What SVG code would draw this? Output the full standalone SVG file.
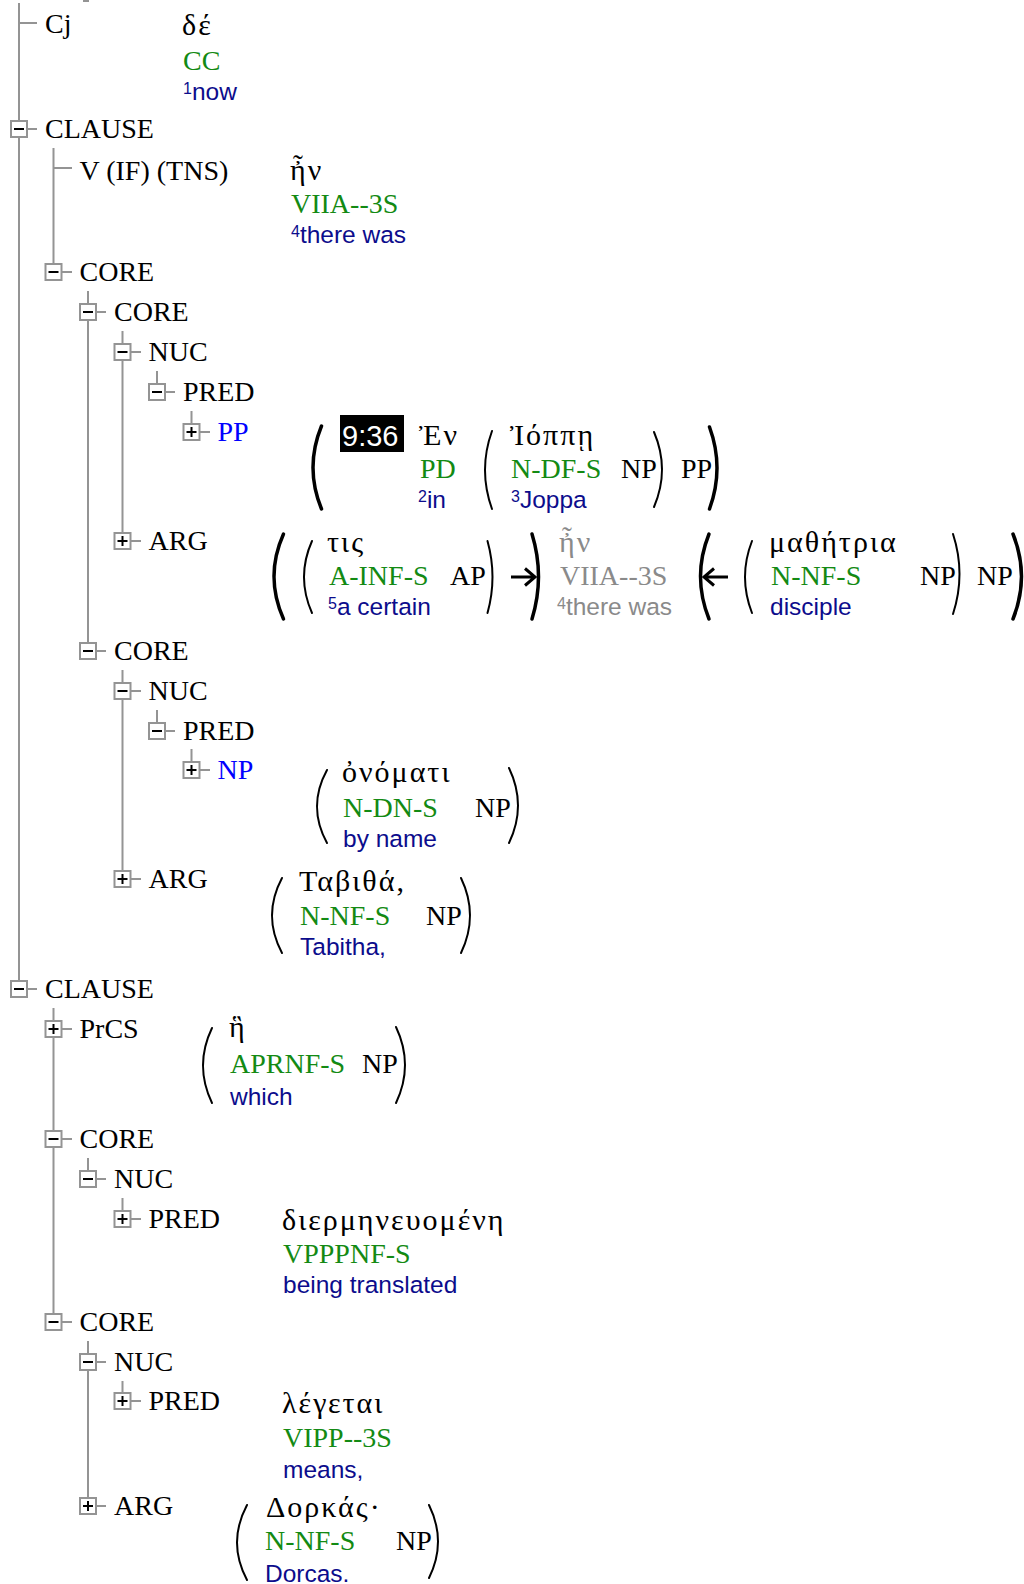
<svg xmlns="http://www.w3.org/2000/svg" width="1024" height="1584" viewBox="0 0 1024 1584">
<style>
  .ln { stroke: #949494; stroke-width: 2; fill: none; }
  .bx { fill: #fff; stroke: #949494; stroke-width: 2; }
  .sg { stroke: #000; stroke-width: 2; fill: none; }
  .lbl { font-family: "Liberation Serif", serif; font-size: 28px; fill: #000; }
  .blue { fill: #0000ff; }
  .tag { font-family: "Liberation Serif", serif; font-size: 28px; fill: #138a13; }
  .ph { font-family: "Liberation Serif", serif; font-size: 28px; fill: #000; }
  .gr { font-family: "Liberation Serif", serif; font-size: 30px; letter-spacing: 2px; fill: #000; }
  .gl { font-family: "Liberation Sans", sans-serif; font-size: 24.5px; fill: #0c0c8c; }
  .sup { font-size: 16px; }
  .dim { fill: #8a8a8a; }
  .pb { stroke: #000; stroke-width: 3.5; fill: none; stroke-linecap: round; }
  .pt { stroke: #000; stroke-width: 2; fill: none; stroke-linecap: round; }
  .arw { stroke: #000; stroke-width: 3; fill: none; }
  .vref { font-family: "Liberation Sans", sans-serif; font-size: 29px; fill: #fff; }
</style>

<defs>
  <g id="minus"><rect class="bx" x="-8" y="-8" width="16" height="16"/><path class="sg" d="M-5 0 H5"/></g>
  <g id="plus"><rect class="bx" x="-8" y="-8" width="16" height="16"/><path class="sg" d="M-5 0 H5 M0 -5 V5"/></g>
</defs>

<!-- tree connectors: vertical rails and horizontal ticks -->
<g id="connectors">
  <path class="ln" d="M83 1 H89"/>
  <path class="ln" d="M19 3 V980"/>
  <path class="ln" d="M53.5 148 V272 M53.5 1008 V1322"/>
  <path class="ln" d="M88 291 V651 M88 1158 V1179 M88 1341 V1506"/>
  <path class="ln" d="M122.5 331 V541 M122.5 670 V879 M122.5 1198 V1219 M122.5 1381 V1401"/>
  <path class="ln" d="M157 371 V392 M157 710 V731"/>
  <path class="ln" d="M191.5 411 V432 M191.5 749 V770"/>
  <path class="ln" d="M19 23 H37 M19 129 H37 M19 989 H37"/>
  <path class="ln" d="M53.5 168 H72 M53.5 272 H72 M53.5 1029 H72 M53.5 1139 H72 M53.5 1322 H72"/>
  <path class="ln" d="M88 312 H106 M88 651 H106 M88 1179 H106 M88 1362 H106 M88 1506 H106"/>
  <path class="ln" d="M122.5 352 H141 M122.5 541 H141 M122.5 691 H141 M122.5 879 H141 M122.5 1219 H141 M122.5 1401 H141"/>
  <path class="ln" d="M157 392 H175 M157 731 H175"/>
  <path class="ln" d="M191.5 432 H210 M191.5 770 H210"/>
</g>

<!-- Cj -->
<g id="n-cj">
  <text class="lbl" x="45" y="33">Cj</text>
  <text class="gr" x="182" y="35">δέ</text>
  <text class="tag" x="183" y="70">CC</text>
  <text class="gl" x="183" y="100"><tspan class="sup" dy="-6">1</tspan><tspan dy="6">now</tspan></text>
</g>

<!-- first clause -->
<g id="n-clause1">
  <use href="#minus" x="19" y="129"/>
  <text class="lbl" x="45" y="138">CLAUSE</text>
</g>
<g id="n-v">
  <text class="lbl" x="79.5" y="180">V (IF) (TNS)</text>
  <text class="gr" x="290" y="180">ἦν</text>
  <text class="tag" x="291" y="213">VIIA--3S</text>
  <text class="gl" x="291" y="243"><tspan class="sup" dy="-6">4</tspan><tspan dy="6">there was</tspan></text>
</g>
<g id="n-core1">
  <use href="#minus" x="53.5" y="272"/>
  <text class="lbl" x="79.5" y="281">CORE</text>
</g>
<g id="n-core1a">
  <use href="#minus" x="88" y="312"/>
  <text class="lbl" x="114" y="321">CORE</text>
</g>
<g id="n-nuc1a">
  <use href="#minus" x="122.5" y="352"/>
  <text class="lbl" x="148.5" y="361">NUC</text>
</g>
<g id="n-pred1a">
  <use href="#minus" x="157" y="392"/>
  <text class="lbl" x="183" y="401">PRED</text>
</g>
<g id="n-pp">
  <use href="#plus" x="191.5" y="432"/>
  <text class="lbl blue" x="217.5" y="441">PP</text>
  <path class="pb" d="M321.5 426 Q304.5 467.5 321.5 509"/>
  <rect x="340" y="415" width="64" height="37" fill="#000"/>
  <text class="vref" x="342" y="446">9:36</text>
  <text class="gr" x="419" y="445">Ἐν</text>
  <text class="tag" x="420" y="478">PD</text>
  <text class="gl" x="418" y="508"><tspan class="sup" dy="-6">2</tspan><tspan dy="6">in</tspan></text>
  <path class="pt" d="M492 431 Q478 470 492 509"/>
  <text class="gr" x="510" y="445">Ἰόππῃ</text>
  <text class="tag" x="511" y="478">N-DF-S</text>
  <text class="ph" x="621" y="478">NP</text>
  <text class="gl" x="511" y="508"><tspan class="sup" dy="-6">3</tspan><tspan dy="6">Joppa</tspan></text>
  <path class="pt" d="M654 432 Q670 469.5 654 507"/>
  <text class="ph" x="681" y="478">PP</text>
  <path class="pb" d="M709.5 427 Q724.5 468 709.5 509"/>
</g>
<g id="n-arg1a">
  <use href="#plus" x="122.5" y="541"/>
  <text class="lbl" x="148.5" y="550">ARG</text>
  <path class="pb" d="M283.5 534 Q264.5 576.5 283.5 619"/>
  <path class="pt" d="M312 541 Q296 577 312 613"/>
  <text class="gr" x="327" y="552">τις</text>
  <text class="tag" x="329" y="585">A-INF-S</text>
  <text class="ph" x="450" y="585">AP</text>
  <text class="gl" x="328" y="615"><tspan class="sup" dy="-6">5</tspan><tspan dy="6">a certain</tspan></text>
  <path class="pt" d="M487.5 541 Q497.5 577 487.5 613"/>
  <path class="arw" d="M511 577 H534 M525 568.5 L535 577 L525 585.5"/>
  <path class="pb" d="M532 534 Q545 576.5 532 619"/>
  <text class="gr dim" x="559" y="552">ἦν</text>
  <text class="tag dim" x="560" y="585">VIIA--3S</text>
  <text class="gl dim" x="557" y="615"><tspan class="sup" dy="-6">4</tspan><tspan dy="6">there was</tspan></text>
  <path class="pb" d="M709 534 Q692 576.5 709 619"/>
  <path class="arw" d="M728 577 H705 M714 568.5 L704 577 L714 585.5"/>
  <path class="pt" d="M752 541 Q738 577 752 613"/>
  <text class="gr" x="769" y="552">μαθήτρια</text>
  <text class="tag" x="771" y="585">N-NF-S</text>
  <text class="ph" x="920" y="585">NP</text>
  <text class="gl" x="770" y="615">disciple</text>
  <path class="pt" d="M953 534 Q966 574 953 614"/>
  <text class="ph" x="977" y="585">NP</text>
  <path class="pb" d="M1013 534 Q1030 576.5 1013 619"/>
</g>
<g id="n-core1b">
  <use href="#minus" x="88" y="651"/>
  <text class="lbl" x="114" y="660">CORE</text>
</g>
<g id="n-nuc1b">
  <use href="#minus" x="122.5" y="691"/>
  <text class="lbl" x="148.5" y="700">NUC</text>
</g>
<g id="n-pred1b">
  <use href="#minus" x="157" y="731"/>
  <text class="lbl" x="183" y="740">PRED</text>
</g>
<g id="n-np">
  <use href="#plus" x="191.5" y="770"/>
  <text class="lbl blue" x="217.5" y="779">NP</text>
  <path class="pt" d="M327 770 Q307 806.5 327 843"/>
  <text class="gr" x="342" y="782">ὀνόματι</text>
  <text class="tag" x="343" y="817">N-DN-S</text>
  <text class="ph" x="475" y="817">NP</text>
  <text class="gl" x="343" y="847">by name</text>
  <path class="pt" d="M509 768 Q527 805.5 509 843"/>
</g>
<g id="n-arg1b">
  <use href="#plus" x="122.5" y="879"/>
  <text class="lbl" x="148.5" y="888">ARG</text>
  <path class="pt" d="M282 878 Q262 915.5 282 953"/>
  <text class="gr" x="299" y="891">Ταβιθά,</text>
  <text class="tag" x="300" y="925">N-NF-S</text>
  <text class="ph" x="426" y="925">NP</text>
  <text class="gl" x="300" y="955">Tabitha,</text>
  <path class="pt" d="M461 878 Q479 915.5 461 953"/>
</g>

<!-- second clause -->
<g id="n-clause2">
  <use href="#minus" x="19" y="989"/>
  <text class="lbl" x="45" y="998">CLAUSE</text>
</g>
<g id="n-prcs">
  <use href="#plus" x="53.5" y="1029"/>
  <text class="lbl" x="79.5" y="1038">PrCS</text>
  <path class="pt" d="M212 1028 Q194 1065.5 212 1103"/>
  <text class="gr" x="229" y="1037">ἣ</text>
  <text class="tag" x="230" y="1073">APRNF-S</text>
  <text class="ph" x="362" y="1073">NP</text>
  <text class="gl" x="230" y="1105">which</text>
  <path class="pt" d="M396 1027 Q414 1065 396 1103"/>
</g>
<g id="n-core2a">
  <use href="#minus" x="53.5" y="1139"/>
  <text class="lbl" x="79.5" y="1148">CORE</text>
</g>
<g id="n-nuc2a">
  <use href="#minus" x="88" y="1179"/>
  <text class="lbl" x="114" y="1188">NUC</text>
</g>
<g id="n-pred2a">
  <use href="#plus" x="122.5" y="1219"/>
  <text class="lbl" x="148.5" y="1228">PRED</text>
  <text class="gr" x="282" y="1230">διερμηνευομένη</text>
  <text class="tag" x="283" y="1263">VPPPNF-S</text>
  <text class="gl" x="283" y="1293">being translated</text>
</g>
<g id="n-core2b">
  <use href="#minus" x="53.5" y="1322"/>
  <text class="lbl" x="79.5" y="1331">CORE</text>
</g>
<g id="n-nuc2b">
  <use href="#minus" x="88" y="1362"/>
  <text class="lbl" x="114" y="1371">NUC</text>
</g>
<g id="n-pred2b">
  <use href="#plus" x="122.5" y="1401"/>
  <text class="lbl" x="148.5" y="1410">PRED</text>
  <text class="gr" x="282" y="1413">λέγεται</text>
  <text class="tag" x="283" y="1447">VIPP--3S</text>
  <text class="gl" x="283" y="1478">means,</text>
</g>
<g id="n-arg2">
  <use href="#plus" x="88" y="1506"/>
  <text class="lbl" x="114" y="1515">ARG</text>
  <path class="pt" d="M247 1505 Q227 1542.5 247 1580"/>
  <text class="gr" x="266" y="1517">Δορκάς·</text>
  <text class="tag" x="265" y="1550">N-NF-S</text>
  <text class="ph" x="396" y="1550">NP</text>
  <text class="gl" x="265" y="1582">Dorcas.</text>
  <path class="pt" d="M429 1505 Q447 1541.5 429 1578"/>
</g>
</svg>
